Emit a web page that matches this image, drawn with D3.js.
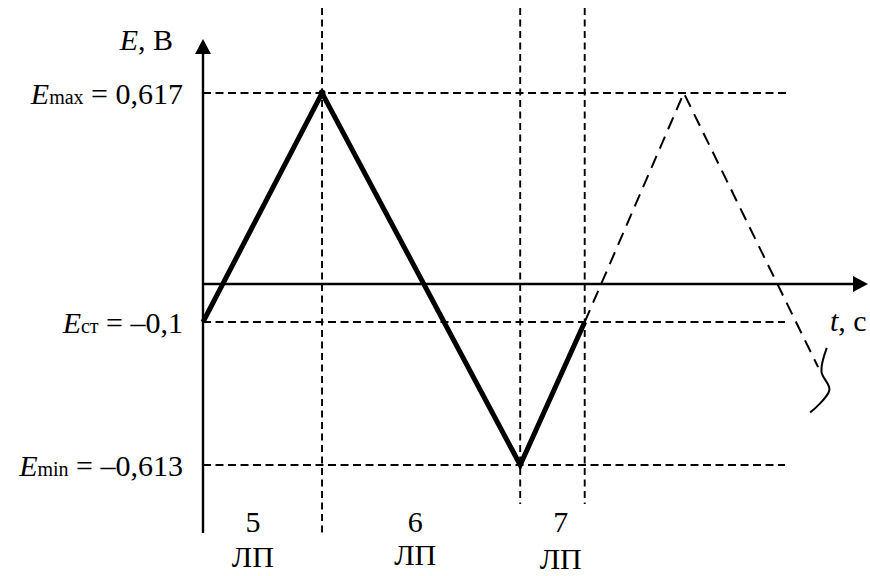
<!DOCTYPE html>
<html>
<head>
<meta charset="utf-8">
<script src="https://cdn.jsdelivr.net/npm/d3@7"></script>
<style>
  body { margin: 0; background: #fff; }
</style>
</head>
<body>
<svg id="chart"></svg>
<script>
// levels of E (V), shown on the left
const levelKeys = ['max', 'ст', 'min'];
const levelValues = [0.617, -0.1, -0.613];
const levelText = ['0,617', '–0,1', '–0,613'];

// times (arbitrary units) of the sweep turns
const turnTimes = [17.9, 47.7, 57.4];

// solid part of the sweep (t, E)
const solidT = [0, 17.9, 47.7, 57.4];
const solidE = [-0.1, 0.617, -0.613, -0.1];

// dashed continuation
const dashT = [57.4, 72.3, 92.5];
const dashE = [-0.1, 0.617, -0.262];

// break mark at the end of the dashed line
const breakT = [93.8, 93.0, 94.2, 91.3];
const breakE = [-0.193, -0.278, -0.344, -0.425];

// phase labels
const phaseNames = ['5', '6', '7'];
const phaseT = [7.5, 31.9, 53.8];

const width = 870;
const height = 576;
const serif = 'Liberation Serif';
const fs = 30;

const svg = d3.select('#chart')
  .attr('width', width)
  .attr('height', height);

// schematic axes: not to scale, so piecewise scales
const xScale = d3.scaleLinear()
  .domain([0, 100])
  .range([203, 868]);

const yScale = d3.scaleLinear()
  .domain([-0.613, -0.1, 0, 0.617])
  .range([465, 322, 284, 93]);

const guideRight = 787;

// horizontal guides
svg.selectAll('.hguide')
  .data(levelValues)
  .join('line')
  .attr('class', 'hguide')
  .attr('x1', xScale(0))
  .attr('x2', (d, i) => i === 0 ? guideRight : guideRight - 2)
  .attr('y1', d => yScale(d))
  .attr('y2', d => yScale(d))
  .attr('stroke', '#000')
  .attr('stroke-width', 1.9)
  .attr('stroke-dasharray', '8,4.5');

// vertical guides
const vBottoms = [535, 504, 504];
svg.selectAll('.vguide')
  .data(turnTimes)
  .join('line')
  .attr('class', 'vguide')
  .attr('x1', d => xScale(d))
  .attr('x2', d => xScale(d))
  .attr('y1', 8)
  .attr('y2', (d, i) => vBottoms[i])
  .attr('stroke', '#000')
  .attr('stroke-width', 1.9)
  .attr('stroke-dasharray', '7,4.5');

// axes
const x0 = xScale(0);
const yTop = 39;
svg.append('line')
  .attr('x1', x0).attr('x2', x0)
  .attr('y1', 533).attr('y2', yTop + 12)
  .attr('stroke', '#000').attr('stroke-width', 2.4);
svg.append('path')
  .attr('d', `M${x0},${yTop} L${x0 - 8},${yTop + 15} L${x0 + 8},${yTop + 15} Z`)
  .attr('fill', '#000');

const y0 = yScale(0);
const xRight = xScale(100);
svg.append('line')
  .attr('x1', x0).attr('x2', xRight - 12)
  .attr('y1', y0).attr('y2', y0)
  .attr('stroke', '#000').attr('stroke-width', 2.4);
svg.append('path')
  .attr('d', `M${xRight},${y0} L${xRight - 15},${y0 - 8} L${xRight - 15},${y0 + 8} Z`)
  .attr('fill', '#000');

const lineGen = d3.line()
  .x(d => xScale(d.t))
  .y(d => yScale(d.E));

const solid = solidT.map((t, i) => ({ t, E: solidE[i] }));
const dashed = dashT.map((t, i) => ({ t, E: dashE[i] }));
const brk = breakT.map((t, i) => ({ t, E: breakE[i] }));

svg.append('path')
  .attr('d', lineGen(dashed))
  .attr('fill', 'none')
  .attr('stroke', '#000')
  .attr('stroke-width', 2)
  .attr('stroke-dasharray', '13,8');

svg.append('path')
  .attr('d', lineGen(solid))
  .attr('fill', 'none')
  .attr('stroke', '#000')
  .attr('stroke-width', 5)
  .attr('stroke-linejoin', 'miter');

svg.append('circle')
  .attr('cx', xScale(solidT[1]))
  .attr('cy', yScale(solidE[1]))
  .attr('r', 3.5)
  .attr('fill', '#000');

svg.append('path')
  .attr('d', lineGen.curve(d3.curveCatmullRom)(brk))
  .attr('fill', 'none')
  .attr('stroke', '#000')
  .attr('stroke-width', 2);

// level labels
const levelLabels = svg.selectAll('.level-label')
  .data(levelValues)
  .join('text')
  .attr('class', 'level-label')
  .attr('x', 183)
  .attr('y', d => yScale(d) + 11)
  .attr('text-anchor', 'end')
  .attr('font-family', serif)
  .attr('font-size', fs);

levelLabels.append('tspan')
  .attr('font-style', 'italic')
  .text('E');
levelLabels.append('tspan')
  .attr('font-size', 20)
  .text((d, i) => levelKeys[i]);
levelLabels.append('tspan')
  .text((d, i) => ' = ' + levelText[i]);

// axis titles
const yTitle = svg.append('text')
  .attr('x', 173)
  .attr('y', 50)
  .attr('text-anchor', 'end')
  .attr('font-family', serif)
  .attr('font-size', fs);
yTitle.append('tspan').attr('font-style', 'italic').text('E');
yTitle.append('tspan').text(', В');

const xTitle = svg.append('text')
  .attr('x', 830)
  .attr('y', 331)
  .attr('font-family', serif)
  .attr('font-size', fs);
xTitle.append('tspan').attr('font-style', 'italic').text('t');
xTitle.append('tspan').text(', с');

// phase labels
const lpBaselines = [567, 565, 569];
svg.selectAll('.phase-num')
  .data(phaseNames)
  .join('text')
  .attr('class', 'phase-num')
  .attr('x', (d, i) => xScale(phaseT[i]))
  .attr('y', 532)
  .attr('text-anchor', 'middle')
  .attr('font-family', serif)
  .attr('font-size', fs)
  .text(d => d);

svg.selectAll('.phase-lp')
  .data(phaseNames)
  .join('text')
  .attr('class', 'phase-lp')
  .attr('x', (d, i) => xScale(phaseT[i]))
  .attr('y', (d, i) => lpBaselines[i])
  .attr('text-anchor', 'middle')
  .attr('font-family', serif)
  .attr('font-size', fs)
  .text('ЛП');
</script>
</body>
</html>
